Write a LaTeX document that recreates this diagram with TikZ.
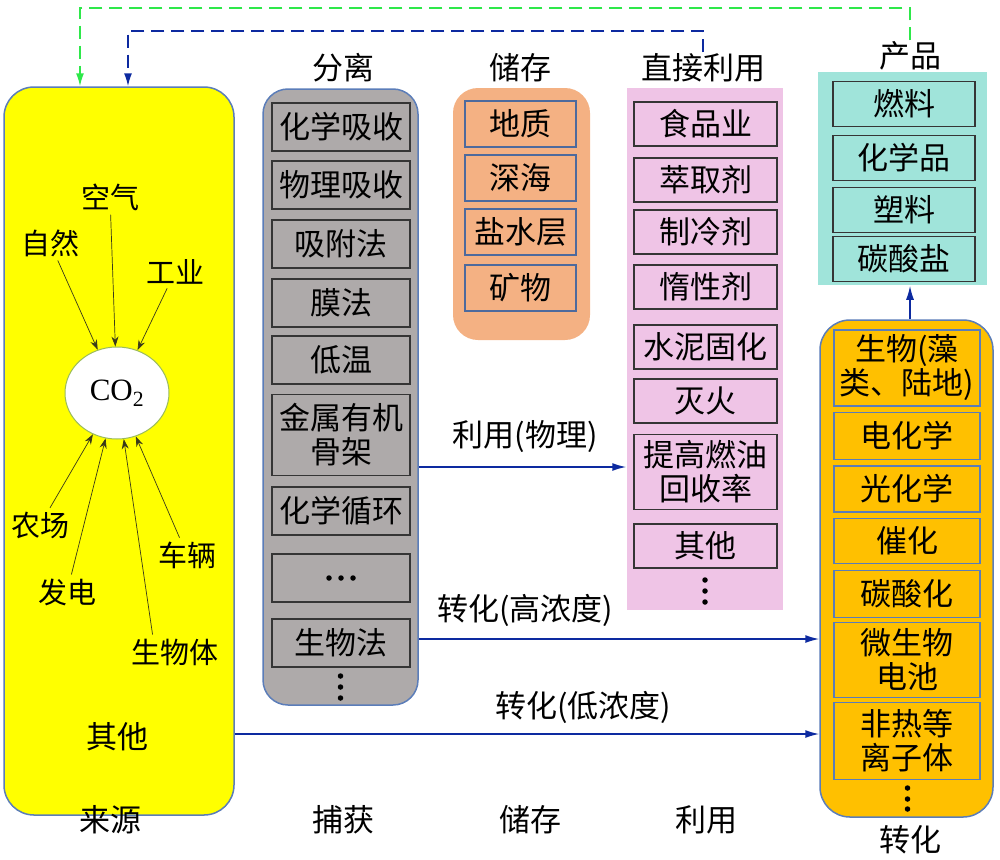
\documentclass[tikz,border=0pt]{standalone}
\usepackage{fontspec}
\setmainfont{Noto Sans CJK SC}
\newfontfamily\tnr{Liberation Serif}
\usetikzlibrary{arrows.meta, shapes.geometric}

\definecolor{srcyellow}{HTML}{FFFF00}
\definecolor{edgeblue}{HTML}{5B7DB9}
\definecolor{capgray}{HTML}{AEAAAA}
\definecolor{stoorange}{HTML}{F4B183}
\definecolor{usepink}{HTML}{EFC4E6}
\definecolor{prodteal}{HTML}{A0E4DA}
\definecolor{convgold}{HTML}{FFC000}
\definecolor{boxdark}{HTML}{353535}
\definecolor{co2edge}{HTML}{9BBB59}
\definecolor{arrowdark}{HTML}{3A3A1A}
\definecolor{flowblue}{HTML}{0D2AA0}
\definecolor{dashgreen}{HTML}{2EE84A}

\tikzset{
  panel/.style={draw=edgeblue, line width=1.5pt, inner sep=0pt},
  item/.style={draw=#1, line width=1.8pt, inner sep=0pt, align=center, font=\fontsize{31}{34}\selectfont},
  capbox/.style={item=boxdark, minimum width=138pt, minimum height=48pt},
  stobox/.style={item=edgeblue!85!black, minimum width=111pt, minimum height=46pt},
  usebox/.style={item=boxdark, line width=1.4pt, minimum width=143pt, minimum height=44pt},
  prodbox/.style={item=boxdark, minimum width=142pt, minimum height=45pt},
  convbox/.style={item=edgeblue, minimum width=146pt, minimum height=46pt},
  title/.style={inner sep=1pt, font=\fontsize{31}{34}\selectfont},
  srclabel/.style={inner sep=1pt, font=\fontsize{29}{32}\selectfont},
  srcarrow/.style={-{Stealth[length=10pt,width=7pt]}, draw=arrowdark, line width=0.7pt, shorten <=3pt},
  flow/.style={-{Latex[length=14pt,width=8pt]}, draw=flowblue, line width=1.5pt},
  feedback/.style={-{Latex[length=13pt,width=8pt]}, line width=1.5pt, dash pattern=on 13pt off 7pt},
  dot/.style={circle, fill=black, inner sep=0pt, minimum size=5.5pt}
}

\begin{document}
\begin{tikzpicture}[x=1pt, y=-1pt]
\useasboundingbox (0,0) rectangle (1000,859);

% big panels
\node[panel, fill=srcyellow, rounded corners=30pt, minimum width=230pt, minimum height=728pt] (src) at (119,451) {};
\node[panel, fill=capgray, rounded corners=25pt, minimum width=155pt, minimum height=616pt] (cap) at (340.5,397) {};
\node[panel, fill=stoorange, draw=none, rounded corners=25pt, minimum width=137pt, minimum height=252pt] (sto) at (521.5,214) {};
\node[panel, fill=usepink, draw=none, minimum width=156pt, minimum height=522pt] (use) at (705,349) {};
\node[panel, fill=prodteal, draw=none, minimum width=169pt, minimum height=213pt] (prod) at (902.5,178.5) {};
\node[panel, fill=convgold, rounded corners=30pt, minimum width=173pt, minimum height=497pt] (conv) at (906.5,568.5) {};

% titles
\node[title] (capt) at (343,68) {分离};
\node[title] (stot) at (520,68) {储存};
\node[title] (uset) at (703,68) {直接利用};
\node[title] (prodt) at (910,56) {产品};

% sources
\node[ellipse, draw=co2edge, fill=white, line width=1pt, minimum width=104pt, minimum height=92pt, inner sep=0pt,
  font=\tnr\fontsize{31}{32}\selectfont] (co2) at (117,393) {CO\textsubscript{2}};
\node[srclabel] (kongqi) at (110,197) {空气};
\node[srclabel] (ziran) at (50,243) {自然};
\node[srclabel] (gongye) at (175,272) {工业};
\node[srclabel] (nongchang) at (40,525) {农场};
\node[srclabel] (fadian) at (67,592) {发电};
\node[srclabel] (cheliang) at (187,555) {车辆};
\node[srclabel] (swt) at (175,652) {生物体};
\node[title] (qita) at (117,737) {其他};

\draw[srcarrow] (ziran) -- (co2);
\draw[srcarrow] (kongqi) -- (co2);
\draw[srcarrow] (gongye) -- (co2);
\draw[srcarrow] (nongchang) -- (co2);
\draw[srcarrow] (fadian) -- (co2);
\draw[srcarrow] (cheliang) -- (co2);
\draw[srcarrow] ([xshift=-22pt]swt.north) -- (co2);

% capture
\node[capbox] (cap1) at (341,127) {化学吸收};
\node[capbox] (cap2) at (341,185) {物理吸收};
\node[capbox] (cap3) at (341,244) {吸附法};
\node[capbox] (cap4) at (341,303) {膜法};
\node[capbox] (cap5) at (341,360) {低温};
\node[capbox, minimum height=81pt] (cap6) at (341,435) {金属有机\\骨架};
\node[capbox] (cap7) at (341,511) {化学循环};
\node[capbox] (cap8) at (341,578) {};
\node[capbox] (cap9) at (341,643) {生物法};
\foreach \xx in {329,341,353} \node[dot] at (\xx,578) {};
\foreach \yy in {676,687,698} \node[dot] at (340.5,\yy) {};

% storage
\node[stobox] (sto1) at (520.5,124) {地质};
\node[stobox] (sto2) at (520.5,178) {深海};
\node[stobox] (sto3) at (520.5,232) {盐水层};
\node[stobox] (sto4) at (520.5,288) {矿物};

% direct use
\node[usebox] (use1) at (705.5,124) {食品业};
\node[usebox] (use2) at (705.5,180) {萃取剂};
\node[usebox] (use3) at (705.5,232) {制冷剂};
\node[usebox] (use4) at (705.5,287) {惰性剂};
\node[usebox] (use5) at (705.5,347) {水泥固化};
\node[usebox] (use6) at (705.5,401) {灭火};
\node[usebox, minimum height=75pt] (use7) at (705.5,472) {提高燃油\\回收率};
\node[usebox] (use8) at (705.5,546) {其他};
\foreach \yy in {580,591,602} \node[dot] at (705,\yy) {};

% products
\node[prodbox] (prod1) at (904,104) {燃料};
\node[prodbox] (prod2) at (904,158) {化学品};
\node[prodbox] (prod3) at (904,210) {塑料};
\node[prodbox] (prod4) at (904,259) {碳酸盐};

% conversion
\node[convbox, minimum height=76pt] (conv1) at (907,368) {生物(藻\\类、陆地)};
\node[convbox, minimum height=47pt] (conv2) at (907,436) {电化学};
\node[convbox] (conv3) at (907,489) {光化学};
\node[convbox, minimum height=45pt] (conv4) at (907,541) {催化};
\node[convbox, minimum height=47pt] (conv5) at (907,594) {碳酸化};
\node[convbox, minimum height=75pt] (conv6) at (907,660) {微生物\\电池};
\node[convbox, minimum height=77pt] (conv7) at (907,741) {非热等\\离子体};
\foreach \yy in {788,799,809} \node[dot] at (907.5,\yy) {};

% flows
\coordinate (physy) at (0,467);
\coordinate (hiy) at (0,639);
\coordinate (loy) at (0,734);
\draw[flow] (cap.east |- physy) -- (use.west |- physy);
\draw[flow] (cap.east |- hiy) -- (conv.west |- hiy);
\draw[flow] (src.east |- loy) -- (conv.west |- loy);
\draw[flow] (conv.north -| prodt) -- (prod.south -| prodt);
\node[title] (lblphys) at (525,437) {利用(物理)};
\node[title] (lblhi) at (525,610) {转化(高浓度)};
\node[title] (lbllo) at (583,707) {转化(低浓度)};

% feedback loops
\coordinate (gtop) at (80,8);
\coordinate (btop) at (128,31);
\draw[feedback, draw=dashgreen] (prodt.north) |- (gtop) -- (gtop |- src.north);
\draw[feedback, draw=flowblue] (uset.north) |- (btop) -- (btop |- src.north);

% stage names
\node[title] (stage1) at (110,820) {来源};
\node[title] (stage2) at (343,820) {捕获};
\node[title] (stage3) at (530,820) {储存};
\node[title] (stage4) at (706,820) {利用};
\node[title] (stage5) at (910,840) {转化};
\end{tikzpicture}
\end{document}
